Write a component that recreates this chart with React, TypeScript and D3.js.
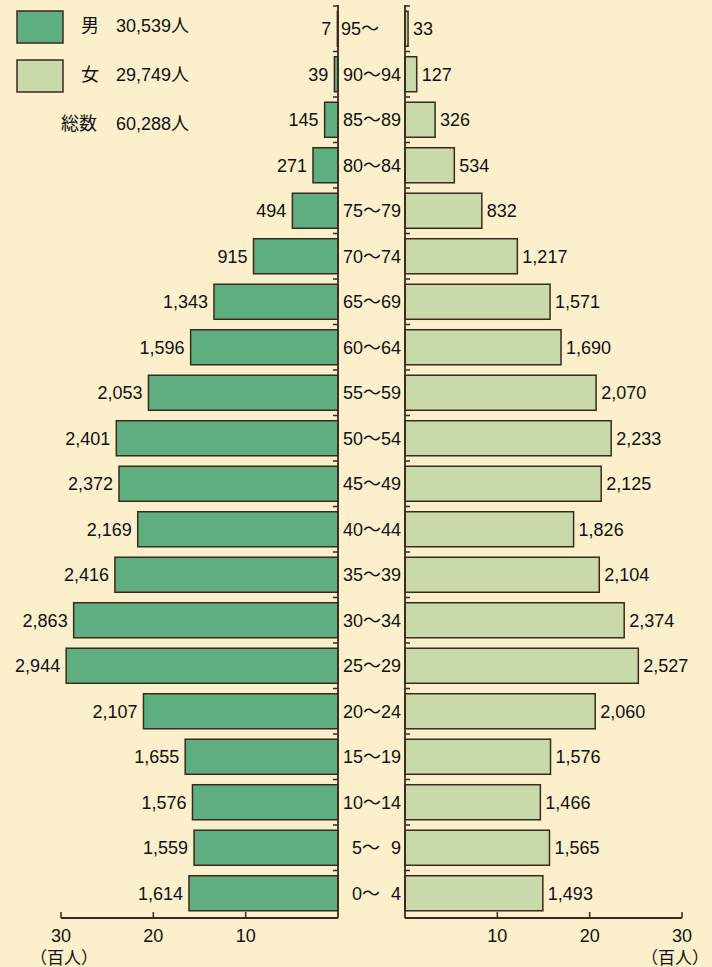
import React from "react";
import * as d3 from "d3";

const ages = ["95〜", "90〜94", "85〜89", "80〜84", "75〜79", "70〜74", "65〜69", "60〜64", "55〜59", "50〜54", "45〜49", "40〜44", "35〜39", "30〜34", "25〜29", "20〜24", "15〜19", "10〜14", "5〜 9", "0〜 4"];
const male = [7, 39, 145, 271, 494, 915, 1343, 1596, 2053, 2401, 2372, 2169, 2416, 2863, 2944, 2107, 1655, 1576, 1559, 1614];
const female = [33, 127, 326, 534, 832, 1217, 1571, 1690, 2070, 2233, 2125, 1826, 2104, 2374, 2527, 2060, 1576, 1466, 1565, 1493];
const ticks = [10, 20, 30];
const legendRows = [
  { label: "男", value: "30,539人" },
  { label: "女", value: "29,749人" },
  { label: "総数", value: "60,288人" },
];

const W = 712, H = 967;
const BG = "#fbf0cb";
const MALE = "#5fae80";
const FEMALE = "#c9d9a9";
const INK = "#3a2a1c";
const FONT = "'Liberation Sans', Arial, 'Noto Sans CJK JP', sans-serif";
const FS = 18;

export default function App() {
  const leftZero = 338, rightZero = 405;
  const axisY = 918, topY = 6;
  const xL = d3.scaleLinear().domain([0, 3000]).range([leftZero, leftZero - 277]);
  const xR = d3.scaleLinear().domain([0, 3000]).range([rightZero, rightZero + 277]);
  const y = d3.scaleBand<string>().domain(ages).range([topY, axisY - 2]).paddingInner(0.23).paddingOuter(0.115);
  const step = y.step();
  const fmt = d3.format(",");
  const boundaries = d3.range(ages.length).map((i) => (y(ages[i]) as number) - (step - y.bandwidth()) / 2);

  const ageLabel = (a: string, cy: number) => {
    const m = a.match(/^(\d)〜 (\d)$/);
    if (m) {
      return (
        <text key={a} y={cy} dy="0.35em" fontSize={FS} fill="#111">
          <tspan x={352}>{m[1] + "〜"}</tspan>
          <tspan x={401} textAnchor="end">{" " + m[2]}</tspan>
        </text>
      );
    }
    if (a.length <= 3) {
      return <text key={a} x={341} y={cy} dy="0.35em" fontSize={FS} fill="#111">{a}</text>;
    }
    return (
      <text key={a} x={401} y={cy} dy="0.35em" textAnchor="end" fontSize={FS} fill="#111">{a}</text>
    );
  };

  return (
    <svg width={W} height={H} style={{ position: "absolute", left: 0, top: 0 }} fontFamily={FONT}>
      <rect width={W} height={H} fill={BG} />
      {/* legend */}
      <rect x={17} y={11} width={46} height={32} fill={MALE} stroke={INK} strokeWidth={1.5} />
      <rect x={17} y={60} width={46} height={32} fill={FEMALE} stroke={INK} strokeWidth={1.5} />
      {legendRows.map((r, i) => (
        <g key={r.label}>
          <text x={i === 2 ? 61 : 81} y={26 + i * 49} dy="0.35em" fontSize={FS} fill="#111">{r.label}</text>
          <text x={116} y={26 + i * 49} dy="0.35em" fontSize={FS} fill="#111">{r.value}</text>
        </g>
      ))}
      {/* bars */}
      {ages.map((a, i) => {
        const yy = y(a) as number;
        const bh = y.bandwidth();
        const cy = yy + bh / 2;
        return (
          <g key={a}>
            <rect x={xL(male[i])} y={yy} width={leftZero - xL(male[i])} height={bh} fill={MALE} stroke={INK} strokeWidth={1.5} />
            <rect x={rightZero} y={yy} width={xR(female[i]) - rightZero} height={bh} fill={FEMALE} stroke={INK} strokeWidth={1.5} />
            <text x={xL(male[i]) - 6} y={cy} dy="0.35em" textAnchor="end" fontSize={FS} fill="#111">{fmt(male[i])}</text>
            <text x={xR(female[i]) + 5} y={cy} dy="0.35em" fontSize={FS} fill="#111">{fmt(female[i])}</text>
            {ageLabel(a, cy)}
          </g>
        );
      })}
      {/* vertical axes */}
      <line x1={leftZero} x2={leftZero} y1={topY - 1} y2={axisY} stroke={INK} strokeWidth={1.8} />
      <line x1={rightZero} x2={rightZero} y1={topY - 1} y2={axisY} stroke={INK} strokeWidth={1.8} />
      {boundaries.map((b, i) => (
        <g key={i}>
          <line x1={leftZero - 5} x2={leftZero} y1={b} y2={b} stroke={INK} strokeWidth={1.5} />
          <line x1={rightZero} x2={rightZero + 5} y1={b} y2={b} stroke={INK} strokeWidth={1.5} />
        </g>
      ))}
      {/* bottom axes */}
      <line x1={xL(3000)} x2={leftZero} y1={axisY} y2={axisY} stroke={INK} strokeWidth={1.8} />
      <line x1={rightZero} x2={xR(3000)} y1={axisY} y2={axisY} stroke={INK} strokeWidth={1.8} />
      {ticks.map((t) => (
        <g key={t}>
          <line x1={xL(t * 100)} x2={xL(t * 100)} y1={axisY - 6} y2={axisY} stroke={INK} strokeWidth={1.5} />
          <line x1={xR(t * 100)} x2={xR(t * 100)} y1={axisY - 6} y2={axisY} stroke={INK} strokeWidth={1.5} />
          <text x={xL(t * 100)} y={936} dy="0.35em" textAnchor="middle" fontSize={FS} fill="#111">{t}</text>
          <text x={xR(t * 100)} y={936} dy="0.35em" textAnchor="middle" fontSize={FS} fill="#111">{t}</text>
        </g>
      ))}
      <text x={64} y={958} dy="0.35em" textAnchor="middle" fontSize={17} fill="#111">（百人）</text>
      <text x={675} y={958} dy="0.35em" textAnchor="middle" fontSize={17} fill="#111">（百人）</text>
    </svg>
  );
}
